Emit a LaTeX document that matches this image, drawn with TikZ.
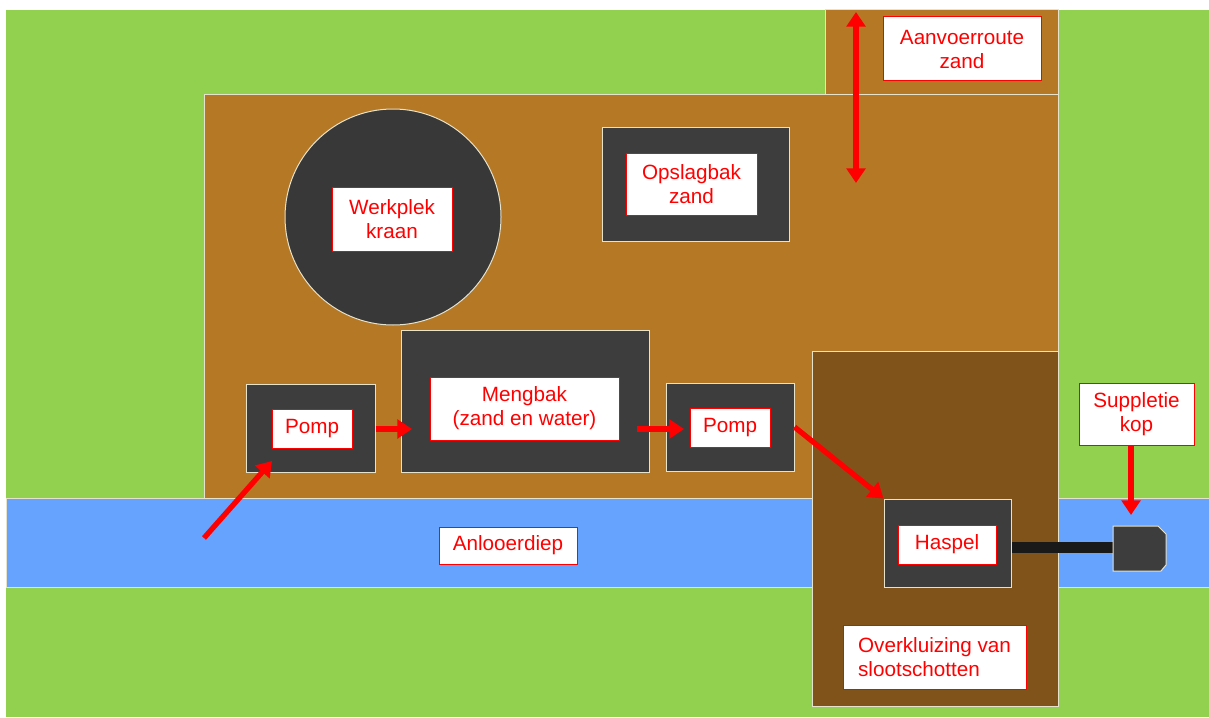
\documentclass[tikz,border=0pt]{standalone}
\usepackage{fontspec}
\setmainfont{Liberation Sans}
\usetikzlibrary{arrows.meta}

\definecolor{gras}{HTML}{92D050}
\definecolor{zand}{HTML}{B57824}
\definecolor{kluis}{HTML}{80531A}
\definecolor{water}{HTML}{66A3FF}
\definecolor{bakkleur}{HTML}{3D3D3D}
\definecolor{randkleur}{HTML}{E6E2CC}

\begin{document}
\begin{tikzpicture}[x=0.75pt,y=-0.75pt]

% styles
\tikzstyle{rand}=[draw=randkleur, line width=0.75pt]
\tikzstyle{bak}=[rand, fill=bakkleur, inner sep=0pt]
\tikzstyle{bord}=[draw=red, fill=white, text=red, line width=0.75pt, align=center, inner sep=0pt, font=\fontsize{15.5}{18}\selectfont]
\tikzstyle{pijl}=[red, line width=4pt, -{Triangle[length=11pt 0,width=14pt 0]}]

\useasboundingbox (0,0) rectangle (1209,717);

% terrein
\fill[gras] (6,10) rectangle (1209,717);
\filldraw[rand, fill=zand] (825,10) rectangle (1058,94);
\filldraw[rand, fill=zand] (204,94) rectangle (1058,498);
\filldraw[rand, fill=water] (6,498) rectangle (1209,587);
\filldraw[rand, fill=kluis] (812,351) rectangle (1058,706);

% bakken
\node[bak, circle, fill=black!78, minimum size=162pt] (kraan) at (393,217) {};
\node[bak, minimum width=140.25pt, minimum height=85.5pt] (opslagbak) at (695.5,184) {};
\node[bak, minimum width=96.75pt, minimum height=66pt] (pompbak1) at (310.5,428) {};
\node[bak, minimum width=186pt, minimum height=106.5pt] (mengbak) at (525,401) {};
\node[bak, minimum width=96pt, minimum height=66pt] (pompbak2) at (730,427) {};
\node[bak, minimum width=95.25pt, minimum height=66pt] (haspelbak) at (947.5,543) {};

% haspel en kop
\fill[black!90] (haspelbak.east |- 0,542) rectangle (1113,553);
\filldraw[rand, fill=bakkleur] (1113,526) -- (1158,526) -- (1166,534) -- (1166,565) -- (1161,571) -- (1113,571) -- cycle;

% borden
\node[bord, minimum width=118.5pt, minimum height=48pt] (aanvoer) at (962,49) {Aanvoerroute\\zand};
\node[bord, minimum width=90pt, minimum height=48pt] (werkplek) at (392,219) {Werkplek\\kraan};
\node[bord, minimum width=98.25pt, minimum height=46.5pt] (opslag) at (691.5,184) {Opslagbak\\zand};
\node[bord, minimum width=60pt, minimum height=29.25pt] (pomp1) at (312,428.5) {Pomp};
\node[bord, minimum width=141.75pt, minimum height=47.25pt] (meng) at (524.5,408.5) {Mengbak\\(zand en water)};
\node[bord, minimum width=60pt, minimum height=29.25pt] (pomp2) at (730,427.5) {Pomp};
\node[bord, minimum width=73.5pt, minimum height=29.25pt] (haspel) at (947,544.5) {Haspel};
\node[bord, minimum width=137.25pt, minimum height=48pt, align=left] (overkluizing) at (934.5,657) {Overkluizing van\\slootschotten};
\node[bord, minimum width=86.25pt, minimum height=46.5pt] (suppletie) at (1136.5,414) {Suppletie\\kop};
\node[bord, minimum width=103.5pt, minimum height=27.75pt] (anlooer) at (508,545.5) {Anlooerdiep};

% pijlen
\coordinate (route1) at (856,12);
\coordinate (route2) at (856,183);
\coordinate (inlaat) at (204,538);
\coordinate (inpomp) at (272,461);
\coordinate (inmeng) at (412,429);
\coordinate (uitmeng) at (637,429);
\coordinate (inpomp2) at (684,429);
\coordinate (kop) at (1131,515);

\draw[pijl, {Triangle[length=11pt 0,width=14pt 0]}-{Triangle[length=11pt 0,width=14pt 0]}] (route1) -- (route2);
\draw[pijl] (inlaat) -- (inpomp);
\draw[pijl] (pompbak1.east |- inmeng) -- (inmeng);
\draw[pijl] (uitmeng) -- (inpomp2);
\draw[pijl] (pompbak2.east) -- (haspelbak.north west);
\draw[pijl] (suppletie.south -| kop) -- (kop);

\end{tikzpicture}
\end{document}
